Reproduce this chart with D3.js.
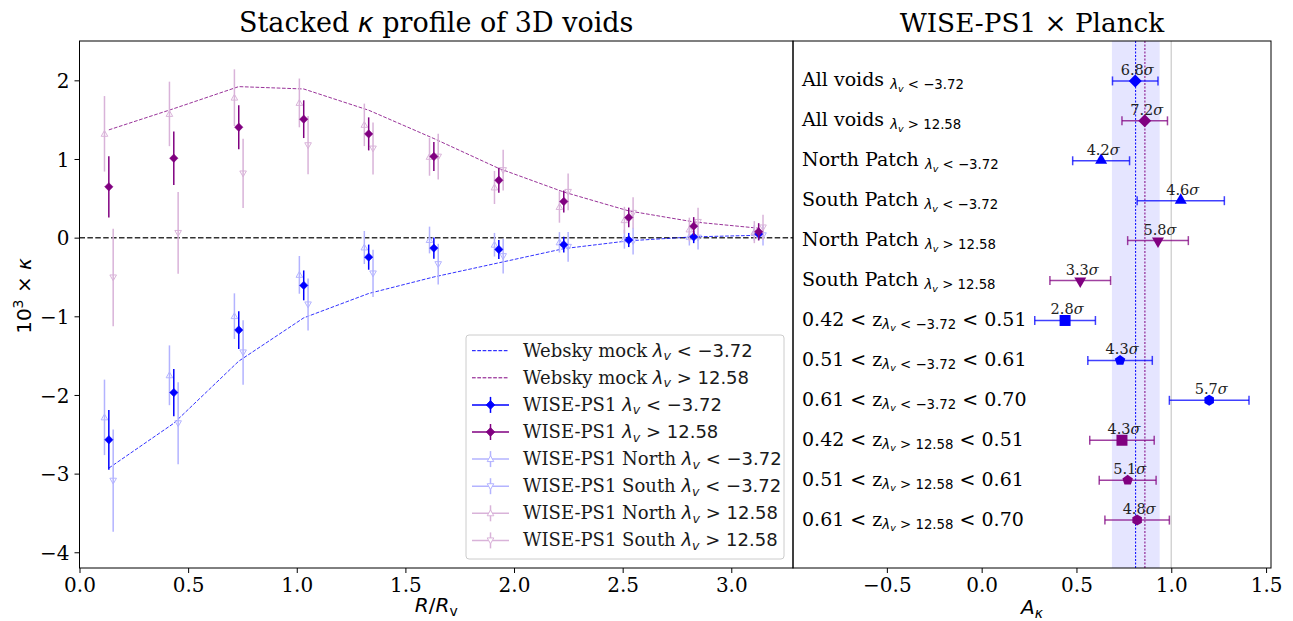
<!DOCTYPE html>
<html><head><meta charset="utf-8">
<script src="https://cdn.jsdelivr.net/npm/d3@7"></script>
<style>
body{margin:0;background:#fff;}
svg{display:block;}
</style></head><body>
<svg id="chart" width="1293" height="621"></svg>
<script>
// ---------------- DATA ----------------
const radii = [0.135, 0.434, 0.733, 1.032, 1.331, 1.631, 1.930, 2.229, 2.528, 2.827, 3.126];
const mockVoid = [-2.93, -2.36, -1.57, -1.02, -0.71, -0.50, -0.32, -0.14, -0.04, 0.01, 0.03];
const mockRidge = [1.37, 1.64, 1.92, 1.89, 1.62, 1.26, 0.88, 0.58, 0.34, 0.20, 0.12];
const allVoid = [-2.57, -1.97, -1.175, -0.607, -0.248, -0.133, -0.15, -0.09, -0.03, 0.01, 0.045];
const allVoidErr = [0.38, 0.30, 0.24, 0.19, 0.16, 0.135, 0.12, 0.10, 0.09, 0.08, 0.07];
const allRidge = [0.646, 1.01, 1.404, 1.506, 1.319, 1.031, 0.73, 0.46, 0.257, 0.146, 0.074];
const allRidgeErr = [0.39, 0.34, 0.28, 0.24, 0.21, 0.185, 0.16, 0.14, 0.125, 0.115, 0.11];
const northVoid = [-2.285, -1.75, -0.998, -0.473, -0.125, -0.03, -0.09, -0.06, -0.02, 0.01, 0.06];
const northVoidErr = [0.48, 0.38, 0.29, 0.24, 0.21, 0.17, 0.15, 0.13, 0.12, 0.11, 0.10];
const southVoid = [-3.09, -2.36, -1.459, -0.849, -0.455, -0.337, -0.235, -0.117, -0.045, 0.0, 0.03];
const southVoidErr = [0.65, 0.52, 0.41, 0.33, 0.30, 0.26, 0.22, 0.19, 0.17, 0.15, 0.13];
const northRidge = [1.32, 1.573, 1.78, 1.713, 1.434, 1.027, 0.638, 0.39, 0.222, 0.104, 0.07];
const northRidgeErr = [0.48, 0.41, 0.36, 0.31, 0.27, 0.24, 0.21, 0.20, 0.17, 0.15, 0.14];
const southRidge = [-0.506, 0.06, 0.816, 1.175, 1.133, 1.03, 0.858, 0.582, 0.315, 0.20, 0.13];
const southRidgeErr = [0.62, 0.52, 0.44, 0.37, 0.33, 0.29, 0.26, 0.235, 0.20, 0.18, 0.16];

const leftXTicks = [0, 0.5, 1.0, 1.5, 2.0, 2.5, 3.0];
const leftYTicks = [-4, -3, -2, -1, 0, 1, 2];
const rightXTicks = [-0.5, 0.0, 0.5, 1.0, 1.5];

const rowMain = ["All voids", "All voids", "North Patch", "South Patch", "North Patch", "South Patch",
                 "0.42 < z", "0.51 < z", "0.61 < z", "0.42 < z", "0.51 < z", "0.61 < z"];
const rowSuffix = ["", "", "", "", "", "", " < 0.51", " < 0.61", " < 0.70", " < 0.51", " < 0.61", " < 0.70"];
const rowSample = ["void", "ridge", "void", "void", "ridge", "ridge", "void", "void", "void", "ridge", "ridge", "ridge"];
const ampValues = [0.81, 0.86, 0.63, 1.05, 0.93, 0.52, 0.44, 0.73, 1.20, 0.74, 0.77, 0.82];
const ampErrors = [0.12, 0.12, 0.15, 0.23, 0.16, 0.16, 0.16, 0.17, 0.21, 0.17, 0.15, 0.17];
const ampSigma = ["6.8", "7.2", "4.2", "4.6", "5.8", "3.3", "2.8", "4.3", "5.7", "4.3", "5.1", "4.8"];
const ampMarker = ["D", "D", "^", "^", "v", "v", "s", "p", "h", "s", "p", "h"];
const bandRange = [0.687, 0.939];
const fitVoid = 0.812;
const fitRidge = 0.861;
const thresholdText = {void: " < \u22123.72", ridge: " > 12.58"};

// ---------------- LAYOUT ----------------
const svg = d3.select("#chart");
const L = {x0: 79.5, x1: 793, y0: 41, y1: 568};
const Rp = {x0: 793, x1: 1271, y0: 41, y1: 568};
const BLUE = "#0000ff", PURPLE = "#800080";
const LBLUE = "#b3b3ff", LPURPLE = "#d9b3d9";
const colorOf = s => s === "void" ? BLUE : PURPLE;

const x = d3.scaleLinear().domain([0, 3.284]).range([L.x0, L.x1]);
const y = d3.scaleLinear().domain([-4.2, 2.5]).range([L.y1, L.y0]);
const xr = d3.scaleLinear().domain([-0.995, 1.526]).range([Rp.x0, Rp.x1]);
const yr = d3.scaleLinear().domain([0, 13.2]).range([Rp.y0, Rp.y1]);

function markerPath(type, s) {
  switch (type) {
    case "D": return `M0,${-s}L${s},0L0,${s}L${-s},0Z`;
    case "^": return `M0,${-s}L${s},${s*0.75}L${-s},${s*0.75}Z`;
    case "v": return `M0,${s}L${s},${-s*0.75}L${-s},${-s*0.75}Z`;
    case "s": return `M${-s},${-s}L${s},${-s}L${s},${s}L${-s},${s}Z`;
    case "p": {
      let p = [];
      for (let i = 0; i < 5; i++) { const a = -Math.PI/2 + i*2*Math.PI/5; p.push([s*Math.cos(a), s*Math.sin(a)]); }
      return "M" + p.map(d => d.join(",")).join("L") + "Z";
    }
    case "h": {
      let p = [];
      for (let i = 0; i < 6; i++) { const a = -Math.PI/2 + i*Math.PI/3; p.push([s*Math.cos(a), s*Math.sin(a)]); }
      return "M" + p.map(d => d.join(",")).join("L") + "Z";
    }
  }
}

// ---------------- LEFT PANEL ----------------
const gl = svg.append("g");
gl.append("line").attr("x1", L.x0).attr("x2", L.x1).attr("y1", y(0)).attr("y2", y(0))
  .attr("stroke", "#333").attr("stroke-width", 1.5).attr("stroke-dasharray", "5.5,2.4");

const lineGen = d3.line().x((d, i) => x(radii[i])).y(d => y(d));
gl.append("path").datum(mockVoid).attr("d", lineGen).attr("fill", "none")
  .attr("stroke", BLUE).attr("stroke-opacity", 0.8).attr("stroke-width", 1).attr("stroke-dasharray", "3.7,1.6");
gl.append("path").datum(mockRidge).attr("d", lineGen).attr("fill", "none")
  .attr("stroke", PURPLE).attr("stroke-opacity", 0.8).attr("stroke-width", 1).attr("stroke-dasharray", "3.7,1.6");

function drawErrSeries(vals, errs, dx, color, mtype, size, filled, lw) {
  const g = gl.append("g");
  vals.forEach((v, i) => {
    const cx = x(radii[i] + dx);
    g.append("line").attr("x1", cx).attr("x2", cx).attr("y1", y(v - errs[i])).attr("y2", y(v + errs[i]))
      .attr("stroke", color).attr("stroke-width", lw);
    g.append("path").attr("d", markerPath(mtype, size)).attr("transform", `translate(${cx},${y(v)})`)
      .attr("fill", filled ? color : "none").attr("stroke", color).attr("stroke-width", filled ? 0.5 : 1);
  });
}
drawErrSeries(northVoid, northVoidErr, -0.02, LBLUE, "^", 3.3, false, 1.5);
drawErrSeries(southVoid, southVoidErr, 0.02, LBLUE, "v", 3.3, false, 1.5);
drawErrSeries(northRidge, northRidgeErr, -0.02, LPURPLE, "^", 3.3, false, 1.5);
drawErrSeries(southRidge, southRidgeErr, 0.02, LPURPLE, "v", 3.3, false, 1.5);
drawErrSeries(allVoid, allVoidErr, 0, BLUE, "D", 4.2, true, 1.5);
drawErrSeries(allRidge, allRidgeErr, 0, PURPLE, "D", 4.2, true, 1.5);

const axL = gl.append("g").attr("transform", `translate(0,${L.y1})`)
  .call(d3.axisBottom(x).tickValues(leftXTicks).tickFormat(d3.format(".1f")).tickSize(5).tickPadding(5));
const ayL = gl.append("g").attr("transform", `translate(${L.x0},0)`)
  .call(d3.axisLeft(y).tickValues(leftYTicks).tickFormat(d3.format("d")).tickSize(5).tickPadding(5));
[axL, ayL].forEach(a => {
  a.select(".domain").remove();
  a.selectAll("text").attr("font-size", 20).attr("fill", "#000").attr("font-family", "DejaVu Serif");
  a.selectAll("line").attr("stroke", "#000");
});
ayL.selectAll("text").attr("dy", "0.36em");

gl.append("rect").attr("x", L.x0).attr("y", L.y0).attr("width", L.x1 - L.x0).attr("height", L.y1 - L.y0)
  .attr("fill", "none").attr("stroke", "#000").attr("stroke-width", 1);

// legend
const leg = gl.append("g");
leg.append("rect").attr("x", 466).attr("y", 335).attr("width", 318).attr("height", 224).attr("rx", 3)
  .attr("fill", "#fff").attr("fill-opacity", 0.8).attr("stroke", "#ccc").attr("stroke-width", 1);
const legItems = [
  {kind: "line", color: BLUE, pre: "Websky mock ", s: "void"},
  {kind: "line", color: PURPLE, pre: "Websky mock ", s: "ridge"},
  {kind: "err", color: BLUE, m: "D", filled: true, pre: "WISE-PS1 ", s: "void"},
  {kind: "err", color: PURPLE, m: "D", filled: true, pre: "WISE-PS1 ", s: "ridge"},
  {kind: "err", color: LBLUE, m: "^", filled: false, pre: "WISE-PS1 North ", s: "void"},
  {kind: "err", color: LBLUE, m: "v", filled: false, pre: "WISE-PS1 South ", s: "void"},
  {kind: "err", color: LPURPLE, m: "^", filled: false, pre: "WISE-PS1 North ", s: "ridge"},
  {kind: "err", color: LPURPLE, m: "v", filled: false, pre: "WISE-PS1 South ", s: "ridge"}
];
legItems.forEach((it, i) => {
  const cy = 350.7 + i * 27.1;
  if (it.kind === "line") {
    leg.append("line").attr("x1", 472).attr("x2", 509).attr("y1", cy).attr("y2", cy)
      .attr("stroke", it.color).attr("stroke-width", 1).attr("stroke-dasharray", "3.7,1.6");
  } else {
    leg.append("line").attr("x1", 472).attr("x2", 509).attr("y1", cy).attr("y2", cy)
      .attr("stroke", it.color).attr("stroke-width", 1.5);
    leg.append("line").attr("x1", 490.5).attr("x2", 490.5).attr("y1", cy - 8).attr("y2", cy + 8)
      .attr("stroke", it.color).attr("stroke-width", 1.5);
    leg.append("path").attr("d", markerPath(it.m, it.filled ? 4.2 : 3.3)).attr("transform", `translate(490.5,${cy})`)
      .attr("fill", it.filled ? it.color : "#fff").attr("stroke", it.color).attr("stroke-width", 1);
  }
  const t = leg.append("text").attr("x", 523).attr("y", cy + 6).attr("font-size", 18).attr("fill", "#1a1a1a");
  t.append("tspan").attr("font-family", "DejaVu Serif").text(it.pre);
  t.append("tspan").attr("font-family", "DejaVu Sans").attr("font-style", "italic").text("\u03bb");
  t.append("tspan").attr("font-family", "DejaVu Sans").attr("font-style", "italic").attr("font-size", 12.6).attr("dy", 3.5).text("v");
  t.append("tspan").attr("font-family", "DejaVu Sans").attr("dy", -3.5).text(thresholdText[it.s]);
});

// titles & labels
const t1 = svg.append("text").attr("x", (L.x0 + L.x1) / 2).attr("y", 32).attr("text-anchor", "middle")
  .attr("font-size", 27).attr("fill", "#000");
t1.append("tspan").attr("font-family", "DejaVu Serif").text("Stacked ");
t1.append("tspan").attr("font-family", "DejaVu Sans").attr("font-style", "italic").text("\u03ba");
t1.append("tspan").attr("font-family", "DejaVu Serif").text(" profile of 3D voids");

const yl = svg.append("text").attr("transform", "translate(31,296) rotate(-90)").attr("text-anchor", "middle")
  .attr("font-size", 20).attr("font-family", "DejaVu Sans").attr("fill", "#000");
yl.append("tspan").text("10");
yl.append("tspan").attr("font-size", 14).attr("dy", -8).text("3");
yl.append("tspan").attr("dy", 8).text(" \u00d7 ");
yl.append("tspan").attr("font-style", "italic").text("\u03ba");

const xl = svg.append("text").attr("x", (L.x0 + L.x1) / 2).attr("y", 612).attr("text-anchor", "middle")
  .attr("font-size", 20).attr("font-family", "DejaVu Sans").attr("fill", "#000");
xl.append("tspan").attr("font-style", "italic").text("R");
xl.append("tspan").text("/");
xl.append("tspan").attr("font-style", "italic").text("R");
xl.append("tspan").attr("font-size", 14).attr("dy", 4).text("v");

// ---------------- RIGHT PANEL ----------------
const gr = svg.append("g");
gr.append("rect").attr("x", xr(bandRange[0])).attr("width", xr(bandRange[1]) - xr(bandRange[0]))
  .attr("y", Rp.y0).attr("height", Rp.y1 - Rp.y0).attr("fill", "#0000ff").attr("fill-opacity", 0.1);
gr.append("line").attr("x1", xr(1)).attr("x2", xr(1)).attr("y1", Rp.y0).attr("y2", Rp.y1)
  .attr("stroke", "#d3d3d3").attr("stroke-width", 1.5);
gr.append("line").attr("x1", xr(fitVoid)).attr("x2", xr(fitVoid)).attr("y1", Rp.y0).attr("y2", Rp.y1)
  .attr("stroke", BLUE).attr("stroke-width", 1).attr("stroke-dasharray", "2,1.5");
gr.append("line").attr("x1", xr(fitRidge)).attr("x2", xr(fitRidge)).attr("y1", Rp.y0).attr("y2", Rp.y1)
  .attr("stroke", PURPLE).attr("stroke-width", 1).attr("stroke-dasharray", "2,1.5");

const markerSize = {D: 6.5, "^": 6, v: 6, s: 5.5, p: 5.5, h: 5.5};
ampValues.forEach((v, i) => {
  const cy = yr(i + 1), c = colorOf(rowSample[i]);
  const xa = xr(v - ampErrors[i]), xb = xr(v + ampErrors[i]);
  const g = gr.append("g");
  g.append("line").attr("x1", xa).attr("x2", xb).attr("y1", cy).attr("y2", cy).attr("stroke", c).attr("stroke-opacity", 0.75).attr("stroke-width", 1.5);
  [xa, xb].forEach(xx => g.append("line").attr("x1", xx).attr("x2", xx).attr("y1", cy - 4.5).attr("y2", cy + 4.5)
    .attr("stroke", c).attr("stroke-opacity", 0.75).attr("stroke-width", 1.5));
  const m = ampMarker[i];
  let dy = 0;
  if (m === "^") dy = -1.5; if (m === "v") dy = 1.5;
  g.append("path").attr("d", markerPath(m, markerSize[m])).attr("transform", `translate(${xr(v)},${cy + dy})`).attr("fill", c);
  const st = g.append("text").attr("x", xr(v) + 2).attr("y", cy - 6).attr("text-anchor", "middle")
    .attr("font-size", 14.5).attr("fill", "#222");
  st.append("tspan").attr("font-family", "DejaVu Serif").text(ampSigma[i]);
  st.append("tspan").attr("font-family", "DejaVu Serif").attr("font-style", "italic").text("\u03c3");

  const lt = gr.append("text").attr("x", 802).attr("y", cy + 5.5).attr("font-size", 19).attr("fill", "#000");
  lt.append("tspan").attr("font-family", "DejaVu Serif").text(rowMain[i] + (i < 6 ? " " : ""));
  lt.append("tspan").attr("font-family", "DejaVu Sans").attr("font-style", "italic").attr("font-size", 13.3).attr("dy", 3).text("\u03bb");
  lt.append("tspan").attr("font-family", "DejaVu Sans").attr("font-style", "italic").attr("font-size", 9.5).attr("dy", 2.5).text("v");
  lt.append("tspan").attr("font-family", "DejaVu Sans").attr("font-size", 13.3).attr("dy", -2.5).text(thresholdText[rowSample[i]]);
  if (rowSuffix[i]) lt.append("tspan").attr("font-family", "DejaVu Serif").attr("dy", -3).text(rowSuffix[i]);
});

const axR = gr.append("g").attr("transform", `translate(0,${Rp.y1})`)
  .call(d3.axisBottom(xr).tickValues(rightXTicks).tickFormat(d3.format(".1f")).tickSize(5).tickPadding(5));
axR.select(".domain").remove();
axR.selectAll("text").attr("font-size", 20).attr("fill", "#000").attr("font-family", "DejaVu Serif");
axR.selectAll("line").attr("stroke", "#000");

gr.append("rect").attr("x", Rp.x0).attr("y", Rp.y0).attr("width", Rp.x1 - Rp.x0).attr("height", Rp.y1 - Rp.y0)
  .attr("fill", "none").attr("stroke", "#000").attr("stroke-width", 1);

svg.append("text").attr("x", (Rp.x0 + Rp.x1) / 2).attr("y", 32).attr("text-anchor", "middle")
  .attr("font-size", 26.3).attr("font-family", "DejaVu Serif").attr("fill", "#000").text("WISE-PS1 \u00d7 Planck");

const xl2 = svg.append("text").attr("x", (Rp.x0 + Rp.x1) / 2).attr("y", 614).attr("text-anchor", "middle")
  .attr("font-size", 20).attr("font-family", "DejaVu Sans").attr("fill", "#000");
xl2.append("tspan").attr("font-style", "italic").text("A");
xl2.append("tspan").attr("font-style", "italic").attr("font-size", 14).attr("dy", 4).text("\u03ba");
</script>
</body></html>
